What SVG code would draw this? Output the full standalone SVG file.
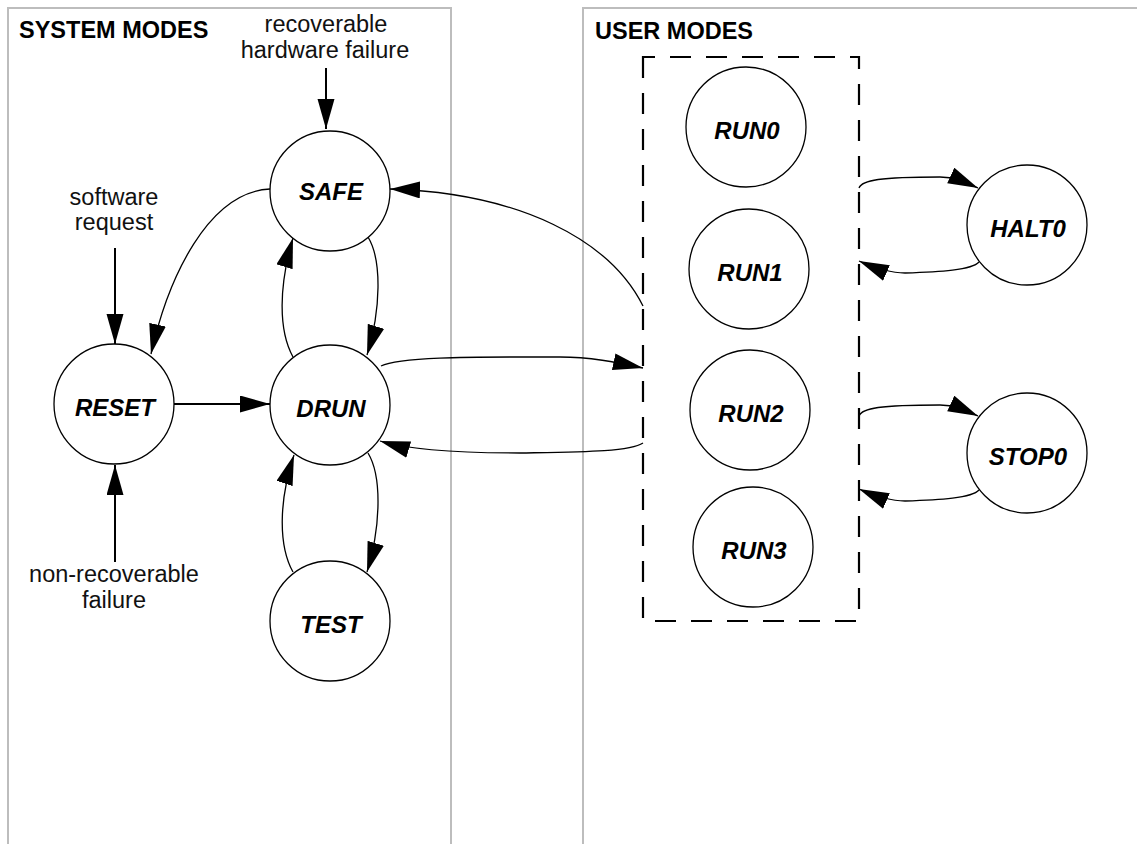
<svg xmlns="http://www.w3.org/2000/svg" width="1137" height="844" viewBox="0 0 1137 844">
<style>
.panel{fill:none;stroke:#bdbdbd;stroke-width:2}
.node circle{fill:#fff;stroke:#000;stroke-width:1.3}
.lbl{font-family:"Liberation Sans",Arial,sans-serif;font-size:24px;font-weight:bold;font-style:italic;text-anchor:middle;fill:#000}
.title{font-family:"Liberation Sans",Arial,sans-serif;font-size:23.5px;font-weight:bold;fill:#000}
.txt{font-family:"Liberation Sans",Arial,sans-serif;font-size:23.5px;text-anchor:middle;fill:#111}
.c{fill:none;stroke:#000;stroke-width:1.3;marker-end:url(#ah)}
.c2{fill:none;stroke:#000;stroke-width:2;marker-end:url(#ah)}
.dash{fill:none;stroke:#000;stroke-width:2.2;stroke-dasharray:21 15}
</style>
<defs>
<marker id="ah" markerUnits="userSpaceOnUse" markerWidth="30" markerHeight="18" refX="30" refY="8.5" orient="auto">
<path d="M0,0 L30,8.5 L0,17 z" fill="#000"/>
</marker>
</defs>
<rect width="1137" height="844" fill="#fff"/>
<g id="panels">
<path class="panel" d="M8,844 L8,8 L451,8 L451,844"/>
<path class="panel" d="M583,844 L583,8 L1137,8"/>
<text class="title" x="19" y="38">SYSTEM MODES</text>
<text class="title" x="595" y="39">USER MODES</text>
</g>
<g id="user-group">
<path class="dash" d="M643,66 L643,57 L859,57 L859,621 L643,621 L643,66"/>
</g>
<g id="labels">
<text class="txt" x="326" y="32">recoverable</text>
<text class="txt" x="325" y="58">hardware failure</text>
<text class="txt" x="114" y="205">software</text>
<text class="txt" x="114" y="230">request</text>
<text class="txt" x="114" y="582">non-recoverable</text>
<text class="txt" x="114" y="608">failure</text>
</g>
<g id="connectors">
<path class="c2" d="M326,68 L326,129"/>
<path class="c2" d="M115,248 L115,344"/>
<path class="c2" d="M115,562 L115,465"/>
<path class="c2" d="M174,404 L270,404"/>
<path class="c" d="M270,189 C208,192 168,278 151,354"/>
<path class="c" d="M293,357 C278,330 279,285 293,238"/>
<path class="c" d="M368,237 C382,260 381,310 367,355"/>
<path class="c" d="M293,572 C278,545 279,500 294,455"/>
<path class="c" d="M368,453 C382,476 381,526 367,572"/>
<path class="c" d="M643,306 C610,240 520,193 390,189"/>
<path class="c" d="M381,366 C400,356 480,357 560,357 C590,357 615,362 643,368"/>
<path class="c" d="M643,443 C630,452 580,452 520,453 C460,453 410,450 380,441"/>
<path class="c" d="M859,188 C862,180 880,177 940,177 C955,177 965,182 978,188"/>
<path class="c" d="M979,262 C972,270 940,272 905,273 C890,273 875,268 859,261"/>
<path class="c" d="M859,416 C862,408 880,405 940,405 C955,405 965,410 978,416"/>
<path class="c" d="M979,490 C972,498 940,500 905,501 C890,501 875,496 859,489"/>
</g>
<g id="SAFE" class="node"><circle cx="330" cy="191" r="60"/><text class="lbl" x="331" y="200">SAFE</text></g>
<g id="RESET" class="node"><circle cx="114" cy="404" r="60"/><text class="lbl" x="115" y="416">RESET</text></g>
<g id="DRUN" class="node"><circle cx="330" cy="405" r="60"/><text class="lbl" x="331" y="417">DRUN</text></g>
<g id="TEST" class="node"><circle cx="330" cy="621" r="60"/><text class="lbl" x="331" y="633">TEST</text></g>
<g id="RUN0" class="node"><circle cx="746" cy="127" r="60"/><text class="lbl" x="747" y="139">RUN0</text></g>
<g id="RUN1" class="node"><circle cx="749" cy="269" r="60"/><text class="lbl" x="750" y="281">RUN1</text></g>
<g id="RUN2" class="node"><circle cx="750" cy="410" r="60"/><text class="lbl" x="751" y="422">RUN2</text></g>
<g id="RUN3" class="node"><circle cx="753" cy="547" r="60"/><text class="lbl" x="754" y="559">RUN3</text></g>
<g id="HALT0" class="node"><circle cx="1027" cy="225" r="60"/><text class="lbl" x="1028" y="237">HALT0</text></g>
<g id="STOP0" class="node"><circle cx="1027" cy="453" r="60"/><text class="lbl" x="1028" y="465">STOP0</text></g>
</svg>
